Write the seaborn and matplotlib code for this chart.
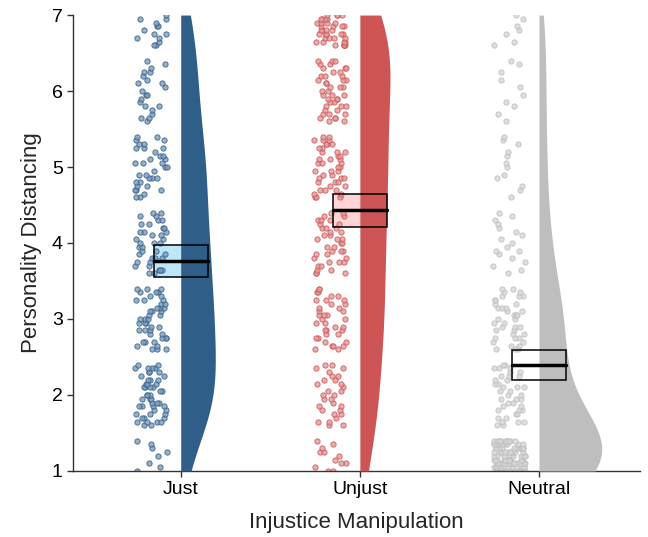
import numpy as np
import pandas as pd
import seaborn as sns
import matplotlib.pyplot as plt
from matplotlib.patches import Rectangle

groups = ["Just", "Unjust", "Neutral"]
# response levels on the 1-7 scale (0.05 steps), counts of points read per level
levels = np.round(np.arange(1.0, 7.001, 0.05), 2)

just_counts = [1, 1, 1, 0, 1, 1, 1, 1, 1, 0, 0, 0,
               2, 4, 3, 3, 2, 4, 3, 3, 3, 2, 4, 3, 3, 2, 3, 4, 2, 0, 0, 0,
               3, 2, 3, 3, 2, 3, 2, 3, 3, 2, 3, 3, 2, 3, 2, 3, 3, 0, 0, 0,
               2, 3, 2, 2, 3, 2, 2, 2, 3, 2, 2, 3, 2, 2, 2, 2, 2, 0, 0, 0,
               2, 1, 3, 2, 2, 3, 2, 1, 2, 3, 2, 2, 1, 3, 2, 2, 2, 0, 0, 0,
               1, 2, 1, 1, 2, 1, 1, 2, 1, 1, 2, 1, 1, 2, 1, 1, 1, 0, 0, 0,
               2, 1, 2, 2, 1, 2, 1, 2, 1]
unjust_counts = [2, 1, 2, 1, 1, 2, 1, 1, 1, 0, 0, 0,
                 2, 2, 1, 2, 2, 2, 1, 2, 2, 2, 1, 2, 2, 2, 1, 2, 2, 0, 0, 0,
                 2, 3, 2, 2, 2, 3, 2, 2, 2, 3, 2, 2, 2, 3, 2, 2, 2, 0, 0, 0,
                 3, 2, 2, 3, 2, 2, 3, 2, 2, 3, 2, 2, 3, 2, 3, 2, 2, 0, 0, 0,
                 3, 2, 3, 2, 3, 3, 2, 3, 2, 3, 3, 2, 3, 2, 3, 3, 2, 0, 0, 0,
                 2, 3, 3, 2, 3, 2, 3, 3, 2, 3, 2, 3, 3, 2, 3, 2, 3, 0, 0, 0,
                 5, 4, 4, 5, 4, 4, 4, 4, 4]
neutral_counts = [16, 14, 13, 12, 12, 12, 11, 11, 11, 0, 0, 0,
                  2, 3, 2, 2, 3, 2, 2, 3, 2, 2, 3, 2, 2, 3, 2, 3, 2, 0, 0, 0,
                  3, 2, 2, 3, 2, 2, 3, 2, 2, 3, 2, 3, 2, 2, 3, 2, 2, 0, 0, 0,
                  1, 1, 1, 1, 1, 1, 2, 1, 1, 1, 1, 1, 1, 1, 1, 1, 1, 0, 0, 0,
                  1, 0, 1, 1, 0, 1, 1, 0, 1, 1, 0, 1, 1, 0, 1, 1, 1, 0, 0, 0,
                  1, 0, 1, 0, 1, 1, 0, 1, 0, 1, 0, 1, 0, 1, 0, 1, 1, 0, 0, 0,
                  1, 1, 0, 1, 1, 1, 0, 1, 1]

dark = {"Just": "#2F5E88", "Unjust": "#CD5555", "Neutral": "#BEBEBE"}
pt_face = {"Just": "#7E9CBB", "Unjust": "#E49A9A", "Neutral": "#D6D6D6"}
box_fill = {"Just": "#BFE5F8", "Unjust": "#FFD5D5", "Neutral": "#FFFFFF"}

parts = []
for i, (g, c) in enumerate(zip(groups, [just_counts, unjust_counts, neutral_counts])):
    parts.append(pd.DataFrame({"group": g, "pos": i, "value": np.repeat(levels, c)}))
df = pd.concat(parts, ignore_index=True)

sns.set_theme(style="ticks")
plt.rcParams["font.family"] = ["Liberation Sans", "DejaVu Sans"]
np.random.seed(7)

fig, ax = plt.subplots(figsize=(6.48, 5.37), dpi=100)
fig.subplots_adjust(left=0.113, right=0.988, top=0.972, bottom=0.123)

# split violins put odd hue levels on the right, so pad with empty levels
hue_order = []
pal = {}
for k, g in enumerate(groups):
    hue_order += [" " * (k + 1), g]
    pal[" " * (k + 1)] = "white"
    pal[g] = dark[g]

vw = 0.35
# the right half starts at pos - width/2, so shift it back onto the category
df["vpos"] = df["pos"] + vw / 2
sns.violinplot(data=df, x="vpos", y="value", hue="group", hue_order=hue_order,
               palette=pal, split=True, dodge=False, native_scale=True, orient="x",
               cut=0, inner=None, linewidth=0, width=vw, density_norm="area",
               common_norm=True, saturation=1, legend=False, ax=ax)

# rain: jittered points left of each cloud
for i, g in enumerate(groups):
    sub = df[df["group"] == g]
    sns.stripplot(x=sub["pos"] - 0.165, y=sub["value"], native_scale=True,
                  orient="x", jitter=0.09, size=3.8, color=pt_face[g],
                  edgecolor=dark[g], linewidth=0.7, alpha=0.8, ax=ax, zorder=2)

# mean +/- 95% CI boxes
for i, g in enumerate(groups):
    v = df.loc[df["group"] == g, "value"]
    m = v.mean()
    ci = 1.96 * v.std() / np.sqrt(len(v))
    ax.add_patch(Rectangle((i - 0.15, m - ci), 0.3, 2 * ci, facecolor=box_fill[g],
                           edgecolor="none", zorder=1))
    ax.add_patch(Rectangle((i - 0.15, m - ci), 0.3, 2 * ci, facecolor="none",
                           edgecolor="black", lw=1.1, zorder=6))
    ax.plot([i - 0.15, i + 0.15], [m, m], color="black", lw=2.5, zorder=7)

for coll in ax.collections[:3]:
    coll.set_zorder(3)

ax.set_xlim(-0.6, 2.565)
ax.set_ylim(1, 7)
ax.set_xticks(range(len(groups)))
ax.set_xticklabels(groups)
ax.set_yticks(range(1, 8))
ax.set_xlabel("Injustice Manipulation", fontsize=16, labelpad=10)
ax.set_ylabel("Personality Distancing", fontsize=16, labelpad=7)
ax.tick_params(labelsize=14, length=4, width=1, color="#333333", labelcolor="black")
sns.despine(ax=ax)
for s in ["left", "bottom"]:
    ax.spines[s].set_color("#333333")
    ax.spines[s].set_linewidth(1)

fig.savefig("out.png", dpi=100)
